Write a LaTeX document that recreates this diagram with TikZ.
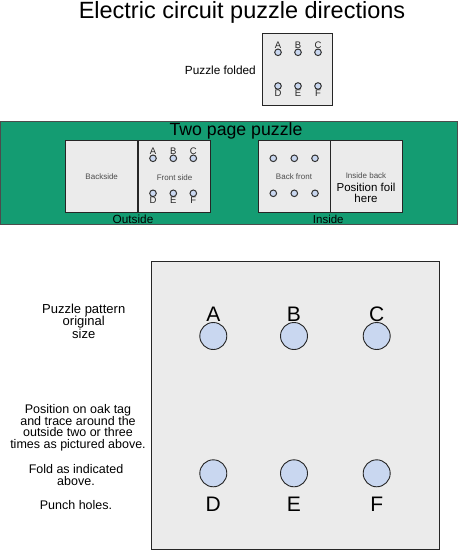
\documentclass[tikz,border=0pt]{standalone}
\usepackage{fontspec}
\setmainfont{Liberation Sans}
\usetikzlibrary{positioning}
\definecolor{boardgreen}{RGB}{20,156,114}
\definecolor{holeblue}{RGB}{201,215,240}
\definecolor{pagegray}{RGB}{235,235,235}
\newcommand{\fsz}[1]{\fontsize{#1}{#1}\selectfont}
\tikzset{page/.style={draw={black!85}, fill=pagegray, minimum width=72pt, minimum height=72pt, inner sep=0pt, line width=0.9pt}}
\tikzset{pagetxt/.style={inner sep=0pt, text={black!70}, font=\fsz{8}}}
\tikzset{hole/.style={circle, draw={black!80}, fill=holeblue, minimum size=6.6pt, inner sep=0pt, line width=1pt, label distance=3.8pt}}
\tikzset{holelbl/.style={inner sep=0pt, text={black!85}, font=\fsz{9.5}}}
\tikzset{bighole/.style={circle, draw={black!85}, fill=holeblue, minimum size=27pt, inner sep=0pt, line width=0.9pt, label distance=4pt}}
\tikzset{biglbl/.style={inner sep=0pt, font=\fsz{21}}}

\begin{document}
\begin{tikzpicture}[x=1pt, y=-1pt]
		\useasboundingbox (0,0) rectangle (458,550);
		\node[anchor=base, inner sep=0pt] (title) at (242,18.5) {\fsz{23.5}Electric circuit puzzle directions};
		
		% folded puzzle
		\node[anchor=base east, inner sep=0pt] (foldedtxt) at (256,74) {\fsz{11.8}Puzzle folded};
		\node[page, minimum width=70pt] (folded) at (297,69) {};
		\node[hole, label={[holelbl]above:A}] (fA) at (278,52.3) {};
		\node[hole, label={[holelbl]above:B}] (fB) at (298,52.3) {};
		\node[hole, label={[holelbl]above:C}] (fC) at (318,52.3) {};
		\node[hole, label={[holelbl]below:D}] (fD) at (278,86) {};
		\node[hole, label={[holelbl]below:E}] (fE) at (298,86) {};
		\node[hole, label={[holelbl]below:F}] (fF) at (318,86) {};
		
		% two page puzzle
		\node[draw={black!70}, fill=boardgreen, minimum width=457pt, minimum height=102.5pt, inner sep=0pt, line width=1pt] (board) at (229,172.8) {};
		\node[anchor=base, inner sep=0pt] (boardtxt) at (236,135.7) {\fsz{17.7}Two page puzzle};
		
		\node[page] (backside) at (101.7,176.2) {};
		\node[page, right=0pt of backside] (frontside) {};
		\node[pagetxt] at (backside) {Backside};
		\node[pagetxt] at ([yshift=-1pt]frontside) {Front side};
		\node[hole, label={[holelbl]above:A}] (pA) at (153,158.3) {};
		\node[hole, label={[holelbl]above:B}] (pB) at (173.3,158.3) {};
		\node[hole, label={[holelbl]above:C}] (pC) at (193.3,158.3) {};
		\node[hole, label={[holelbl]below:D}] (pD) at (153,193.3) {};
		\node[hole, label={[holelbl]below:E}] (pE) at (173.3,193.3) {};
		\node[hole, label={[holelbl]below:F}] (pF) at (193.3,193.3) {};
		\node[anchor=base, inner sep=0pt] (outside) at (133,223.3) {\fsz{11.8}Outside};
		
		\node[page] (backfront) at (294,176.2) {};
		\node[page, right=0pt of backfront] (insideback) {};
		\node[pagetxt] at ([yshift=-0.5pt]backfront) {Back front};
		\node[pagetxt, anchor=base] (ibtxt) at (366,178.3) {Inside back};
		\node[anchor=north, inner sep=0pt, align=center, font=\fontsize{11.5}{11.3}\selectfont] (foil) at (366,182.6) {Position foil\\here};
		\node[hole] (bA) at (273.3,158.3) {};
		\node[hole] (bB) at (294.3,158.3) {};
		\node[hole] (bC) at (315,158.3) {};
		\node[hole] (bD) at (273.3,193.3) {};
		\node[hole] (bE) at (294.3,193.3) {};
		\node[hole] (bF) at (315,193.3) {};
		\node[anchor=base, inner sep=0pt] (inside) at (328.3,223.3) {\fsz{11.5}Inside};
		
		% pattern in original size
		\node[page, minimum width=288pt, minimum height=288pt] (pattern) at (295.2,405) {};
		\node[bighole, label={[biglbl]above:A}] (A) at (213.3,336) {};
		\node[bighole, label={[biglbl]above:B}] (B) at (294,336) {};
		\node[bighole, label={[biglbl]above:C}] (C) at (376.7,336) {};
		\node[bighole, label={[biglbl, label distance=9.7pt]below:D}] (D) at (213.3,473.3) {};
		\node[bighole, label={[biglbl, label distance=9.7pt]below:E}] (E) at (294,473.3) {};
		\node[bighole, label={[biglbl, label distance=9.7pt]below:F}] (F) at (376.7,473.3) {};
		
		\node[anchor=north, inner sep=0pt, align=center, font=\fontsize{13}{12.5}\selectfont] (patterntxt) at (83.7,303.8) {Puzzle pattern\\original\\size};
		\node[anchor=north, inner sep=0pt, align=center, font=\fontsize{12.5}{11.7}\selectfont] (trace) at (78,404.2) {Position on oak tag\\and trace around the\\outside two or three\\times as pictured above.};
		\node[anchor=north, inner sep=0pt, align=center, font=\fontsize{12.5}{11.7}\selectfont] (fold) at (76,464.2) {Fold as indicated\\above.};
		\node[anchor=north, inner sep=0pt, align=center, font=\fontsize{12.5}{11.7}\selectfont] (punch) at (76,500.2) {Punch holes.};
	\end{tikzpicture}
\end{document}
